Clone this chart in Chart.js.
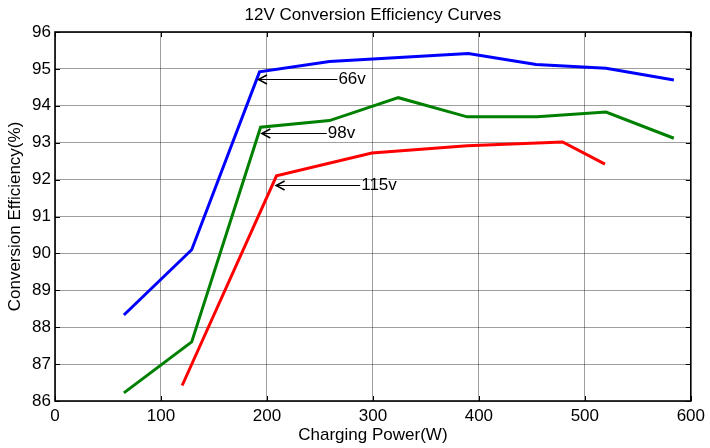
<!DOCTYPE html>
<html>
<head>
<meta charset="utf-8">
<script src="https://cdn.jsdelivr.net/npm/chart.js@4"></script>
<style>
  html, body { margin: 0; padding: 0; background: #fff; }
  #wrap { width: 710px; height: 448px; }
</style>
</head>
<body>
<div id="wrap"><canvas id="effChart"></canvas></div>
<script>
// charging power (W) and efficiency (%)
var power66 = [65, 129, 193, 259, 390, 454, 520, 584];
var eff66 = [88.33, 90.1, 94.92, 95.2, 95.42, 95.12, 95.02, 94.7];

var power98 = [65, 129, 194, 259, 324, 389, 455, 520, 584];
var eff98 = [86.22, 87.6, 93.42, 93.6, 94.22, 93.7, 93.7, 93.83, 93.12];

var power115 = [120, 209, 299, 389, 479, 519];
var eff115 = [86.42, 92.1, 92.72, 92.92, 93.02, 92.42];

var xTicks = [0, 100, 200, 300, 400, 500, 600];
var yTicks = [86, 87, 88, 89, 90, 91, 92, 93, 94, 95, 96];

var chartTitle = '12V Conversion Efficiency Curves';

// arrow labels: tip of the arrow and start of the text, in data units
var noteText = ['66v', '98v', '115v'];
var noteTipX = [191.5, 194.7, 208.2];
var noteTipY = [94.73, 93.25, 91.85];
var noteTextX = [266.5, 256.5, 288];

function pts(xs, ys) {
	var out = [];
	for (var i in xs) {
		out.push({x: xs[i], y: ys[i]});
	}
	return out;
}

var FONT = "'Liberation Sans', Arial, sans-serif";

var framePlugin = {
	id: 'frame',
	afterDatasetsDraw: function(chart) {
		var ctx = chart.ctx;
		var a = chart.chartArea;
		var xs = chart.scales.x, ys = chart.scales.y;
		ctx.save();
		ctx.strokeStyle = '#000';
		ctx.lineWidth = 1;
		// inward tick marks on all four sides
		ctx.beginPath();
		xTicks.forEach(function(v) {
			var px = Math.round(xs.getPixelForValue(v)) + 0.5;
			ctx.moveTo(px, a.bottom); ctx.lineTo(px, a.bottom - 5);
			ctx.moveTo(px, a.top); ctx.lineTo(px, a.top + 5);
		});
		yTicks.forEach(function(v) {
			var py = Math.round(ys.getPixelForValue(v)) + 0.5;
			ctx.moveTo(a.left, py); ctx.lineTo(a.left + 5, py);
			ctx.moveTo(a.right, py); ctx.lineTo(a.right - 5, py);
		});
		ctx.stroke();
		// box
		ctx.lineWidth = 1.6;
		ctx.strokeRect(a.left, a.top, a.right - a.left, a.bottom - a.top);

		// title centred over the plot box
		ctx.fillStyle = '#000';
		ctx.font = '17px ' + FONT;
		ctx.textAlign = 'center';
		ctx.textBaseline = 'middle';
		ctx.fillText(chartTitle, (a.left + a.right) / 2, 15);

		// arrows with labels
		ctx.textAlign = 'left';
		for (var i = 0; i < noteText.length; i++) {
			var tx = xs.getPixelForValue(noteTipX[i]);
			var ty = Math.round(ys.getPixelForValue(noteTipY[i])) + 0.5;
			var ex = xs.getPixelForValue(noteTextX[i]);
			ctx.lineWidth = 1;
			ctx.beginPath();
			ctx.moveTo(tx, ty); ctx.lineTo(ex, ty);
			ctx.stroke();
			ctx.lineWidth = 1.5;
			ctx.beginPath();
			ctx.moveTo(tx + 9, ty - 4.5); ctx.lineTo(tx + 0.5, ty); ctx.lineTo(tx + 9, ty + 4.5);
			ctx.stroke();
			ctx.fillText(noteText[i], ex + 1, ty);
		}
		ctx.restore();
	}
};

var ctx = document.getElementById('effChart');

var chart = new Chart(ctx, {
	type: 'line',
	data: {
		datasets: [
			{
				label: '66v',
				data: pts(power66, eff66),
				borderColor: '#0000ff',
				borderWidth: 3,
				pointRadius: 0,
				tension: 0
			},
			{
				label: '98v',
				data: pts(power98, eff98),
				borderColor: '#008000',
				borderWidth: 3,
				pointRadius: 0,
				tension: 0
			},
			{
				label: '115v',
				data: pts(power115, eff115),
				borderColor: '#ff0000',
				borderWidth: 3,
				pointRadius: 0,
				tension: 0
			}
		]
	},
	options: {
		responsive: true,
		maintainAspectRatio: false,
		animation: false,
		layout: { padding: { left: 0, right: 18, top: 32, bottom: 0 } },
		plugins: {
			legend: { display: false },
			tooltip: { enabled: false },
			title: { display: false }
		},
		scales: {
			x: {
				type: 'linear',
				min: 0,
				max: 600,
				afterFit: function(s) { s.height = 47; },
				afterBuildTicks: function(s) { s.ticks = xTicks.map(function(v) { return {value: v}; }); },
				ticks: { color: '#000', padding: 5, font: { family: FONT, size: 17 }, maxRotation: 0 },
				grid: { color: 'rgba(0,0,0,0.38)', lineWidth: 1, drawTicks: false },
				border: { display: false },
				title: {
					display: true,
					text: 'Charging Power(W)',
					color: '#000',
					font: { family: FONT, size: 17 },
					padding: { top: 0, bottom: 2 }
				}
			},
			y: {
				type: 'linear',
				min: 86,
				max: 96,
				afterFit: function(s) { s.width = 55; },
				afterBuildTicks: function(s) { s.ticks = yTicks.map(function(v) { return {value: v}; }); },
				ticks: { color: '#000', padding: 4, font: { family: FONT, size: 17 } },
				grid: { color: 'rgba(0,0,0,0.38)', lineWidth: 1, drawTicks: false },
				border: { display: false },
				title: {
					display: true,
					text: 'Conversion Efficiency(%)',
					color: '#000',
					font: { family: FONT, size: 17 },
					padding: { top: 5, bottom: 0 }
				}
			}
		}
	},
	plugins: [framePlugin]
});
</script>
</body>
</html>
